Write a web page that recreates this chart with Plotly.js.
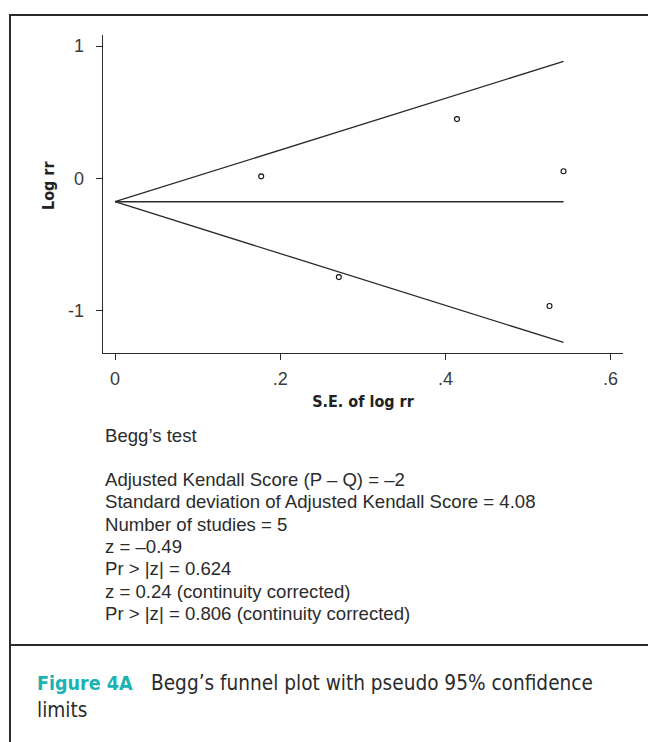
<!DOCTYPE html>
<html>
<head>
<meta charset="utf-8">
<script src="https://cdn.plot.ly/plotly-3.0.1.min.js"></script>
<style>
html,body{margin:0;padding:0;background:#fff;}
#chart{width:648px;height:742px;}
</style>
</head>
<body>
<div id="chart"></div>
<script>
// Study points
const se = [0.177, 0.271, 0.414, 0.543, 0.526];
const logrr = [0.015, -0.747, 0.448, 0.053, -0.966];
// Pseudo 95% confidence limits
const limitSE = [0, 0.543];
const upperLimit = [-0.177, 0.885];
const lowerLimit = [-0.177, -1.241];
const pooledLine = [-0.177, -0.177];
// Ticks
const xTickVals = [0, 0.2, 0.4, 0.6];
const xTickText = ['0', '.2', '.4', '.6'];
const yTickVals = [-1, 0, 1];
const yTickText = ['-1', '0', '1'];
// Text
const xTitle = 'S.E. of log rr';
const yTitle = 'Log rr';
const statLines = [
  "Begg\u2019s test",
  "",
  "Adjusted Kendall Score (P \u2013 Q) = \u20132",
  "Standard deviation of Adjusted Kendall Score = 4.08",
  "Number of studies = 5",
  "z = \u20130.49",
  "Pr > |z| = 0.624",
  "z = 0.24 (continuity corrected)",
  "Pr > |z| = 0.806 (continuity corrected)"
];
const captionLabel = "Figure 4A";
const captionText = ["Begg\u2019s funnel plot with pseudo 95% confidence", "limits"];

// Layout geometry (pixels)
const W = 648, H = 742;
const plotL = 103, plotR = 623, plotT = 35, plotB = 353;
const px2x = p => (p - plotL) / (plotR - plotL);
const px2y = p => (plotB - p) / (plotB - plotT);

const lineCol = '#2a2a2a';
const textCol = '#2b2b2b';
const narrow = '"DejaVu Sans Condensed", "Liberation Sans Narrow", "Liberation Sans", sans-serif';
const body = '"Liberation Sans", Arial, sans-serif';

const traces = [
  {x: limitSE, y: upperLimit, mode: 'lines', line: {color: lineCol, width: 1.3}, hoverinfo: 'skip'},
  {x: limitSE, y: pooledLine, mode: 'lines', line: {color: lineCol, width: 1.3}, hoverinfo: 'skip'},
  {x: limitSE, y: lowerLimit, mode: 'lines', line: {color: lineCol, width: 1.3}, hoverinfo: 'skip'},
  {x: se, y: logrr, mode: 'markers',
   marker: {symbol: 'circle-open', size: 5, color: '#111', line: {width: 1.1, color: '#111'}}}
];

const annotations = [];
// y-axis title (placed where the reference puts it)
annotations.push({
  xref: 'paper', yref: 'paper', x: px2x(48), y: px2y(186),
  xanchor: 'center', yanchor: 'middle', showarrow: false, textangle: -90,
  text: '<b>' + yTitle + '</b>', font: {family: narrow, size: 16, color: '#222'}
});
const statY0 = 435, statStep = 22.3;
statLines.forEach((t, i) => {
  if (!t) return;
  annotations.push({
    xref: 'paper', yref: 'paper', x: px2x(103), y: px2y(statY0 + i * statStep),
    xanchor: 'left', yanchor: 'middle', showarrow: false, align: 'left',
    text: t.replace(/>/g, '&gt;'), font: {family: body, size: 18.6, color: textCol}
  });
});
annotations.push({
  xref: 'paper', yref: 'paper', x: px2x(35), y: px2y(683),
  xanchor: 'left', yanchor: 'middle', showarrow: false, align: 'left',
  text: '<b>' + captionLabel + '</b>',
  font: {family: narrow, size: 19.5, color: '#1bb3b1'}
});
annotations.push({
  xref: 'paper', yref: 'paper', x: px2x(149), y: px2y(683),
  xanchor: 'left', yanchor: 'middle', showarrow: false, align: 'left',
  text: captionText[0],
  font: {family: narrow, size: 20.6, color: textCol}
});
annotations.push({
  xref: 'paper', yref: 'paper', x: px2x(35), y: px2y(710),
  xanchor: 'left', yanchor: 'middle', showarrow: false, align: 'left',
  text: captionText[1],
  font: {family: narrow, size: 20.6, color: textCol}
});

const borderCol = '#2a2a2a';
const shapes = [
  {type: 'line', xref: 'paper', yref: 'paper', x0: px2x(10), x1: px2x(W + 5), y0: px2y(15), y1: px2y(15), line: {color: borderCol, width: 2}},
  {type: 'line', xref: 'paper', yref: 'paper', x0: px2x(10), x1: px2x(10), y0: px2y(14), y1: px2y(H + 5), line: {color: borderCol, width: 2}},
  {type: 'line', xref: 'paper', yref: 'paper', x0: px2x(10), x1: px2x(W + 5), y0: px2y(645), y1: px2y(645), line: {color: borderCol, width: 2}}
];

const layout = {
  width: W, height: H,
  margin: {l: plotL, r: W - plotR, t: plotT, b: H - plotB, pad: 0},
  paper_bgcolor: '#fff', plot_bgcolor: '#fff',
  showlegend: false,
  xaxis: {
    range: [-0.01454, 0.615],
    tickvals: xTickVals, ticktext: xTickText,
    ticks: 'outside', ticklen: 6, tickwidth: 1, tickcolor: lineCol,
    showline: true, linecolor: lineCol, linewidth: 1.3,
    showgrid: false, zeroline: false,
    tickfont: {family: body, size: 18, color: '#3a3a3a'},
    ticklabelstandoff: 3,
    title: {text: xTitle, font: {family: narrow, size: 16, color: '#222', weight: 'bold'}, standoff: 8}
  },
  yaxis: {
    range: [-1.321, 1.084],
    tickvals: yTickVals, ticktext: yTickText,
    ticks: 'outside', ticklen: 6, tickwidth: 1, tickcolor: lineCol,
    showline: true, linecolor: lineCol, linewidth: 1.3,
    showgrid: false, zeroline: false,
    tickfont: {family: body, size: 18, color: '#3a3a3a'},
    ticklabelstandoff: 8
  },
  annotations: annotations,
  shapes: shapes
};

Plotly.newPlot('chart', traces, layout, {displayModeBar: false, staticPlot: true});
</script>
</body>
</html>
